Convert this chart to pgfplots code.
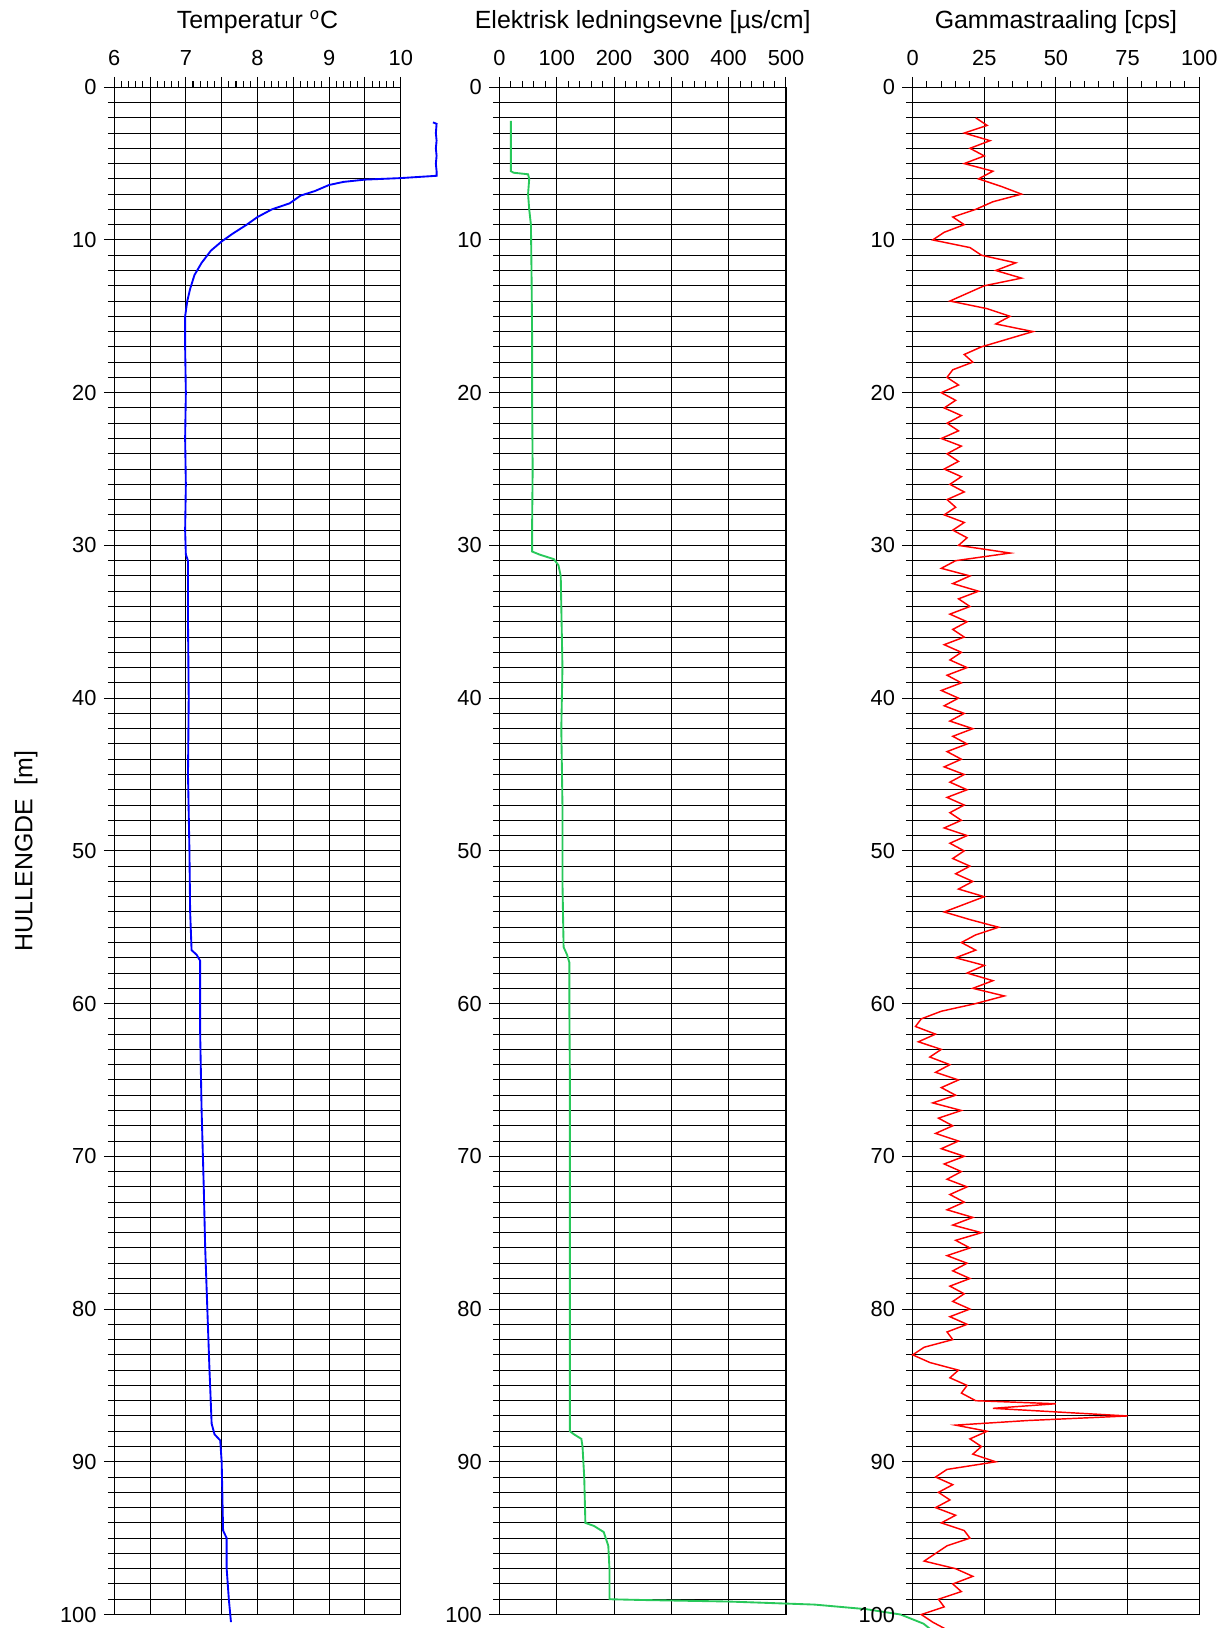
\documentclass[border=0pt]{standalone}
\usepackage{pgfplots}
\pgfplotsset{compat=1.18}
\usepackage{fontspec}
\setmainfont{Liberation Sans}
\begin{document}
\begin{tikzpicture}
\useasboundingbox (0,0) rectangle (592pt,784pt);
\pgfplotsset{
  myax/.style={
    scale only axis, width=138pt, height=735.5pt,
    anchor=north west, y dir=reverse, ymin=0, ymax=100,
    ytick={0,10,...,100}, minor y tick num=9,
    xmajorgrids, ymajorgrids, yminorgrids, xminorgrids=false,
    grid style={black, line width=0.5pt},
    minor grid style={black, line width=0.5pt},
    tick align=outside, major tick length=5pt, minor tick length=3pt,
    xtick pos=upper, xticklabel pos=upper, ytick pos=left,
    axis line style={line width=0.6pt},
    tick style={black, line width=0.5pt},
    ticklabel style={font=\fontsize{10.5}{12}\selectfont},
    xticklabel style={yshift=2pt},
    xlabel style={font=\fontsize{12}{14}\selectfont, yshift=1pt},
    /pgf/number format/assume math mode=true,
    clip=false,
  }
}
\begin{axis}[myax, at={(55pt,742pt)}, xmin=6, xmax=10,
  xtick={6,6.5,...,10}, xticklabels={6,,7,,8,,9,,10}, minor x tick num=4,
  xlabel={Temperatur \textsuperscript{o}C},
  ylabel={HULLENGDE \ [m]}, ylabel style={font=\fontsize{12}{14}\selectfont, yshift=4pt}]
\addplot[blue, line width=0.9pt] coordinates {
(10.45,2.3)(10.5,2.4)(10.49,3)(10.5,3.5)(10.49,4)(10.5,4.5)(10.49,5)(10.5,5.5)(10.5,5.8)
(10,5.95)(9.5,6.05)(9.2,6.2)(9,6.4)(8.8,6.8)(8.6,7.1)(8.45,7.6)(8.2,8.0)(8.0,8.5)(7.85,9.0)
(7.65,9.6)(7.5,10.1)(7.35,10.7)(7.22,11.5)(7.12,12.3)(7.06,13.2)(7.02,14.0)(6.99,15)(6.99,17)
(7.0,20)(6.99,23)(7.0,26)(6.99,29)(7.0,30.6)(7.03,31)(7.03,35)(7.04,40)(7.03,45)(7.05,50)(7.06,54)
(7.08,56.5)(7.15,56.8)(7.2,57.2)(7.2,62)(7.22,67)(7.25,72)(7.27,76)(7.3,80)(7.33,84)(7.36,87.5)(7.4,88.2)
(7.48,88.6)(7.5,90)(7.52,94.5)(7.57,95)(7.57,97)(7.6,99)(7.63,100.5)};
\end{axis}
\begin{axis}[myax, at={(240.5pt,742pt)}, xmin=0, xmax=500,
  xtick={0,100,...,500}, minor x tick num=4,
  xlabel={Elektrisk ledningsevne [µs/cm]}]
\addplot[color={rgb,255:red,40;green,200;blue,90}, line width=0.9pt] coordinates {
(20,2.2)(20,5.5)(25,5.6)(50,5.7)(52,6)(50,7)(52,8)(55,9)(56,12)(57,16)(57,20)(58,25)(57,29)(57,30.4)
(70,30.6)(95,30.9)(103,31.3)(107,32)(108,34)(110,38)(108,42)(110,47)(110,52)(112,56.3)(118,56.8)(122,57.3)
(122,60)(123,65)(123,70)(123,75)(123,80)(123,85)(123,88)(130,88.2)(143,88.5)(145,89)(148,91)(150,94)
(165,94.2)(182,94.6)(190,95.5)(192,97)(192,99)(250,99.05)(400,99.15)(550,99.35)(640,99.65)(700,100)(740,100.6)(770,101.5)};
\end{axis}
\begin{axis}[myax, at={(439.5pt,742pt)}, xmin=0, xmax=100,
  xtick={0,25,...,100}, minor x tick num=4,
  xlabel={Gammastraaling [cps]}]
\addplot[red, line width=0.7pt] coordinates {
(22,2)(26,2.5)(18,3)(27,3.5)(20,4)(25,4.5)(18,5)(28,5.5)(23,6)(31,6.5)(38,7)(28,7.5)(22,8)(14,8.5)(18,9)(11,9.5)(7,10)
(20,10.5)(24,11)(36,11.5)(29,12)(38,12.5)(25,13)(19,13.5)(13,14)(26,14.5)(34,15)(29,15.5)(42,16)(33,16.5)(24,17)
(18,17.5)(21,18)(14,18.5)(12,19)(16,19.5)(10,20)(15,20.5)(11,21)(17,21.5)(12,22)(16,22.5)(10,23)(17,23.5)(12,24)
(16,24.5)(11,25)(17,25.5)(13,26)(18,26.5)(12,27)(15,27.5)(11,28)(18,28.5)(14,29)(19,29.5)(16,30)(34,30.5)(15,31)
(10,31.5)(20,32)(14,32.5)(23,33)(16,33.5)(20,34)(13,34.5)(19,35)(14,35.5)(18,36)(11,36.5)(17,37)(13,37.5)(19,38)
(12,38.5)(17,39)(10,39.5)(16,40)(11,40.5)(18,41)(13,41.5)(21,42)(14,42.5)(19,43)(12,43.5)(17,44)(11,44.5)(18,45)
(13,45.5)(19,46)(12,46.5)(18,47)(13,47.5)(17,48)(11,48.5)(19,49)(13,49.5)(18,50)(14,50.5)(20,51)(15,51.5)(21,52)
(16,52.5)(25,53)(18,53.5)(11,54)(20,54.5)(30,55)(22,55.5)(17,56)(22,56.5)(15,57)(25,57.5)(19,58)(28,58.5)(21,59)
(32,59.5)(22,60)(10,60.5)(3,61)(1,61.5)(8,62)(2,62.5)(10,63)(6,63.5)(13,64)(8,64.5)(16,65)(10,65.5)(15,66)(7,66.5)
(17,67)(9,67.5)(14,68)(8,68.5)(16,69)(10,69.5)(18,70)(11,70.5)(17,71)(12,71.5)(19,72)(13,72.5)(18,73)(12,73.5)
(21,74)(14,74.5)(24,75)(15,75.5)(20,76)(12,76.5)(19,77)(14,77.5)(20,78)(13,78.5)(18,79)(14,79.5)(20,80)(13,80.5)
(19,81)(12,81.5)(14,82)(4,82.5)(0,83)(6,83.5)(16,84)(13,84.5)(19,85)(17,85.5)(22,86)(50,86.2)(28,86.5)(75,87)
(40,87.3)(15,87.6)(26,88)(20,88.5)(24,89)(21,89.5)(29,90)(12,90.5)(8,91)(14,91.5)(9,92)(13,92.5)(8,93)(15,93.5)
(10,94)(18,94.5)(20,95)(12,95.5)(8,96)(4,96.5)(15,97)(21,97.5)(14,98)(17,98.5)(9,99)(11,99.5)(3,100)(7,100.5)(12,101)};
\end{axis}
\end{tikzpicture}
\end{document}
